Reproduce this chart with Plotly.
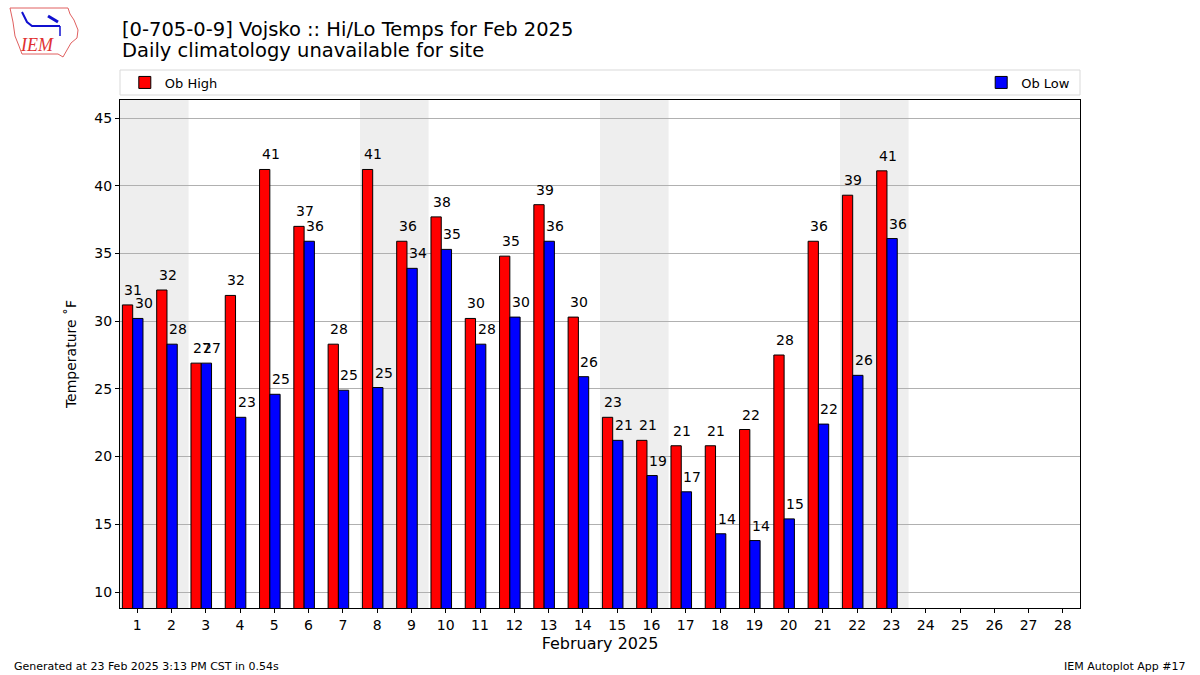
import plotly.graph_objects as go

days = list(range(1, 29))
obs_days = list(range(1, 24))
ob_high = [31.2, 32.3, 26.9, 31.9, 41.2, 37.0, 28.3, 41.2, 35.9, 37.7, 30.2, 34.8,
           38.6, 30.3, 22.9, 21.2, 20.8, 20.8, 22.0, 27.5, 35.9, 39.3, 41.1]
ob_low = [30.2, 28.3, 26.9, 22.9, 24.6, 35.9, 24.9, 25.1, 33.9, 35.3, 28.3, 30.3,
          35.9, 25.9, 21.2, 18.6, 17.4, 14.3, 13.8, 15.4, 22.4, 26.0, 36.1]
weekend_starts = [1, 8, 15, 22]
y_ticks = [10, 15, 20, 25, 30, 35, 40, 45]

FONT = "DejaVu Sans"
W, H = 1200, 675
L, R, T, B = 120, 1080, 100, 608


def px(xp):
    return (xp - L) / (R - L)


def py(yp):
    return (B - yp) / (B - T)


fig = go.Figure()

fig.add_trace(go.Bar(
    x=obs_days, y=ob_high, name="Ob High", width=0.3, offset=-0.43,
    marker=dict(color="#ff0000", line=dict(color="black", width=1)),
    legend="legend",
))
fig.add_trace(go.Bar(
    x=obs_days, y=ob_low, name="Ob Low", width=0.3, offset=-0.13,
    marker=dict(color="#0000ff", line=dict(color="black", width=1)),
    legend="legend2",
))

shapes = []
for d in weekend_starts:
    shapes.append(dict(type="rect", xref="x", yref="paper", x0=d - 0.5, x1=d + 1.5,
                       y0=0, y1=1, fillcolor="#eeeeee", line=dict(width=0), layer="below"))

# legend frame
shapes.append(dict(type="rect", xref="paper", yref="paper", x0=0, x1=1,
                   y0=py(95), y1=py(70), line=dict(color="#d9d9d9", width=1),
                   fillcolor="rgba(255,255,255,0.8)", layer="above"))

# simple logo outline
logo_pts = [(10, 8), (68, 8), (70, 14), (74, 20), (78, 30), (77, 38), (71, 43),
            (67, 50), (63, 57), (58, 54), (22, 54), (19, 46), (15, 36), (13, 22), (10, 8)]
path = "M " + " L ".join(f"{px(a):.5f},{py(b):.5f}" for a, b in logo_pts) + " Z"
shapes.append(dict(type="path", xref="paper", yref="paper", path=path,
                   line=dict(color="#e06060", width=1)))
vane = [(22, 12), (27, 22), (32, 26), (60, 26)]
shapes.append(dict(type="path", xref="paper", yref="paper",
                   path="M " + " L ".join(f"{px(a):.5f},{py(b):.5f}" for a, b in vane),
                   line=dict(color="#1010d0", width=2)))
shapes.append(dict(type="path", xref="paper", yref="paper",
                   path=f"M {px(48):.5f},{py(16):.5f} L {px(58):.5f},{py(22):.5f}",
                   line=dict(color="#1010d0", width=3)))
shapes.append(dict(type="path", xref="paper", yref="paper",
                   path=f"M {px(60):.5f},{py(26):.5f} L {px(60):.5f},{py(36):.5f}",
                   line=dict(color="#1010d0", width=1.5)))

annotations = []
for d, v in zip(obs_days, ob_high):
    annotations.append(dict(x=d - 0.43, y=v, xref="x", yref="y", text=f"{v:.0f}",
                            showarrow=False, xanchor="left", yanchor="bottom", yshift=5,
                            font=dict(family=FONT, size=14, color="black")))
for d, v in zip(obs_days, ob_low):
    annotations.append(dict(x=d - 0.13, y=v, xref="x", yref="y", text=f"{v:.0f}",
                            showarrow=False, xanchor="left", yanchor="bottom", yshift=5,
                            font=dict(family=FONT, size=14, color="black")))

annotations += [
    dict(x=0, y=py(29), xref="paper", yref="paper", text="[0-705-0-9] Vojsko :: Hi/Lo Temps for Feb 2025",
         showarrow=False, xanchor="left", yanchor="middle", font=dict(family=FONT, size=19.5, color="black")),
    dict(x=0, y=py(51), xref="paper", yref="paper", text="Daily climatology unavailable for site",
         showarrow=False, xanchor="left", yanchor="middle", font=dict(family=FONT, size=19.5, color="black")),
    dict(x=px(12), y=py(666), xref="paper", yref="paper", text="Generated at 23 Feb 2025 3:13 PM CST in 0.54s",
         showarrow=False, xanchor="left", yanchor="middle", font=dict(family=FONT, size=11, color="black")),
    dict(x=px(1188), y=py(666), xref="paper", yref="paper", text="IEM Autoplot App #17",
         showarrow=False, xanchor="right", yanchor="middle", font=dict(family=FONT, size=11, color="black")),
    dict(x=px(37), y=py(45), xref="paper", yref="paper", text="<i>IEM</i>",
         showarrow=False, xanchor="center", yanchor="middle",
         font=dict(family="Liberation Serif", size=18, color="#e03030")),
]

fig.update_layout(
    width=W, height=H,
    margin=dict(l=L, r=W - R, t=T, b=H - B, autoexpand=False),
    paper_bgcolor="white", plot_bgcolor="white",
    barmode="overlay",
    font=dict(family=FONT, size=14, color="black"),
    shapes=shapes, annotations=annotations,
    legend=dict(x=0.005, y=py(82.5), xanchor="left", yanchor="middle", orientation="h",
                bgcolor="rgba(0,0,0,0)", font=dict(family=FONT, size=13), itemwidth=30),
    legend2=dict(x=0.995, y=py(82.5), xanchor="right", yanchor="middle", orientation="h",
                 bgcolor="rgba(0,0,0,0)", font=dict(family=FONT, size=13), itemwidth=30),
    showlegend=True,
)
fig.update_xaxes(range=[0.5, 28.5], tickmode="array", tickvals=days, ticktext=[str(d) for d in days],
                 ticks="outside", ticklen=4, tickcolor="black", showgrid=False, zeroline=False,
                 showline=True, linecolor="black", linewidth=1, mirror=True,
                 title=dict(text="February 2025", font=dict(family=FONT, size=16), standoff=6),
                 tickfont=dict(family=FONT, size=14))
fig.update_yaxes(range=[8.82, 46.33], tickmode="array", tickvals=y_ticks,
                 ticks="outside", ticklen=4, tickcolor="black", showgrid=True, gridcolor="#b0b0b0",
                 gridwidth=1, zeroline=False, showline=True, linecolor="black", linewidth=1, mirror=True,
                 title=dict(text="Temperature ˚F", font=dict(family=FONT, size=14), standoff=14),
                 tickfont=dict(family=FONT, size=14))

fig.write_html("out.html", config={"displayModeBar": False},
               post_script="document.body.style.margin='0';document.body.style.padding='0';")
